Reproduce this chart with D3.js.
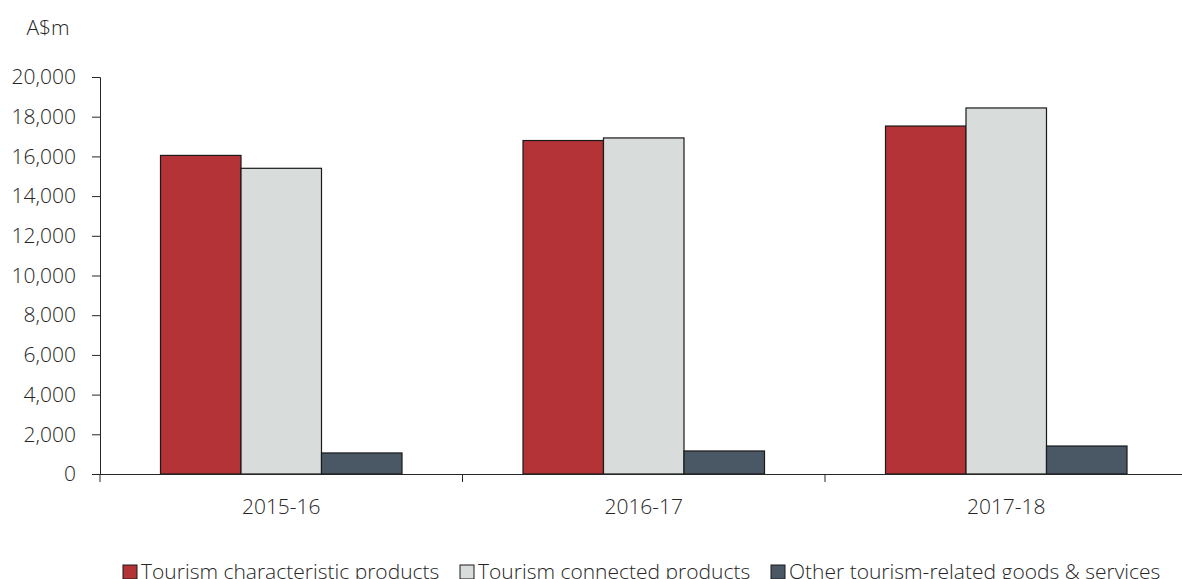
<!DOCTYPE html>
<html>
<head>
<meta charset="utf-8">
<script src="https://cdn.jsdelivr.net/npm/d3@7"></script>
<style>
  body { margin: 0; background: #fff; }
  svg text { font-family: "Open Sans", sans-serif; font-weight: 300; fill: #262626; }
</style>
</head>
<body>
<svg id="chart" width="1182" height="579"></svg>
<script>
const years = ['2015-16', '2016-17', '2017-18'];
const seriesNames = ['Tourism characteristic products', 'Tourism connected products', 'Other tourism-related goods & services'];
const characteristic = [16050, 16800, 17530];
const connected = [15400, 16930, 18440];
const other = [1060, 1160, 1410];
const yTicks = [0, 2000, 4000, 6000, 8000, 10000, 12000, 14000, 16000, 18000, 20000];
const colors = ['#b33336', '#d8dcdb', '#4a5866'];

const series = [characteristic, connected, other];
const data = years.map((yr, i) => ({ year: yr, values: series.map((s, k) => ({ key: k, value: s[i] })) }));

const svg = d3.select('#chart');
const plotLeft = 100, plotRight = 1187.5, plotTop = 77, plotBottom = 474;
const fontSize = '21px';

const x0 = d3.scaleBand().domain(years).range([plotLeft, plotRight]);
const x1 = d3.scaleBand().domain([0, 1, 2]).range([60.5, x0.bandwidth() - 60.5]);
const y = d3.scaleLinear().domain([0, 20000]).range([plotBottom, plotTop]);

// y axis
const yAxis = svg.append('g')
  .attr('transform', `translate(${plotLeft},0)`)
  .call(d3.axisLeft(y).tickValues(yTicks).tickSize(8).tickPadding(16).tickFormat(d3.format(',')));
yAxis.select('.domain').attr('stroke', '#262626');
yAxis.selectAll('.tick line').attr('stroke', '#262626');
yAxis.selectAll('text').style('font-size', fontSize);

svg.append('text')
  .attr('x', 48).attr('y', 35)
  .attr('text-anchor', 'middle')
  .style('font-size', fontSize)
  .text('A$m');

// bars
const groups = svg.selectAll('.grp')
  .data(data)
  .enter()
  .append('g')
  .attr('transform', (d) => `translate(${x0(d.year)},0)`);

groups.selectAll('rect')
  .data((d) => d.values)
  .enter()
  .append('rect')
  .attr('x', (d) => x1(d.key))
  .attr('y', (d) => y(d.value))
  .attr('width', x1.bandwidth())
  .attr('height', (d) => plotBottom - y(d.value))
  .attr('fill', (d) => colors[d.key])
  .attr('stroke', '#1a1a1a')
  .attr('stroke-width', 1.2);

// x axis
const xAxis = svg.append('g')
  .attr('transform', `translate(0,${plotBottom})`)
  .call(d3.axisBottom(x0).tickSize(0).tickPadding(25));
xAxis.select('.domain').attr('stroke', '#262626');
xAxis.selectAll('text').style('font-size', fontSize);
xAxis.selectAll('.sep')
  .data(years)
  .enter()
  .append('line')
  .attr('x1', (d) => x0(d)).attr('x2', (d) => x0(d))
  .attr('y1', 0).attr('y2', 8)
  .attr('stroke', '#262626');

// legend
const legendX = [123, 460, 771];
const legend = svg.append('g');
seriesNames.forEach((name, i) => {
  legend.append('rect')
    .attr('x', legendX[i]).attr('y', 565)
    .attr('width', 14).attr('height', 14)
    .attr('fill', colors[i])
    .attr('stroke', '#1a1a1a');
  legend.append('text')
    .attr('x', legendX[i] + 18).attr('y', 579)
    .style('font-size', fontSize)
    .text(name);
});
</script>
</body>
</html>
